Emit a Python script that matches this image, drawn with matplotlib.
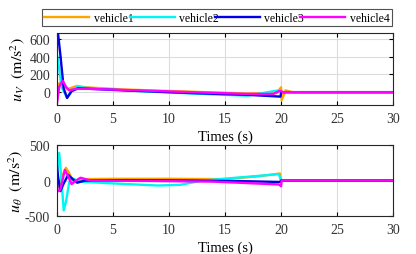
import numpy as np
import matplotlib.pyplot as plt

plt.rcParams['font.family'] = ['Liberation Serif', 'DejaVu Serif']
plt.rcParams['mathtext.fontset'] = 'stix'
plt.rcParams['axes.unicode_minus'] = False

names = ['vehicle1', 'vehicle2', 'vehicle3', 'vehicle4']
colors = ['#FFA500', '#00F5F5', '#0000E6', '#FF00FF']

# u_V traces (time, value)
tv1 = [0, 0.2, 0.5, 0.9, 1.3, 1.8, 2.5, 6, 12, 17, 19.6, 20, 20.05, 20.4, 21, 30]
uv1 = [-100, 100, 120, 30, 50, 70, 55, 30, 5, -15, -10, 55, -90, 20, 0, 0]
tv2 = [0, 0.15, 0.4, 0.9, 1.3, 1.8, 2.5, 6, 12, 17, 19.5, 19.9, 20, 21, 30]
uv2 = [420, 300, 60, -60, 20, 60, 50, 20, -15, -40, 15, 20, 0, 0, 0]
tv3 = [0, 0.1, 0.3, 0.6, 0.9, 1.3, 1.9, 2.5, 6, 12, 17, 19.95, 20, 30]
uv3 = [640, 650, 420, 40, -65, 10, 45, 40, 20, -10, -30, -50, 0, 0]
tv4 = [0, 0.2, 0.5, 0.8, 1.1, 1.6, 2.2, 6, 12, 17, 19.3, 19.9, 20.2, 30]
uv4 = [-120, 60, 130, 60, 20, 35, 40, 25, 0, -20, -20, 15, 0, 0]

# u_theta traces (time, value)
tt1 = [0, 0.2, 0.5, 0.8, 1.1, 1.5, 2.0, 2.5, 5, 10, 15, 18, 19.9, 20, 30]
ut1 = [-100, -80, 80, 180, 100, -20, 5, 20, 25, 25, 20, 60, 100, 0, 0]
tt2 = [0, 0.2, 0.4, 0.6, 0.8, 1.1, 1.4, 2.0, 5, 9, 11, 13, 16, 19.8, 20, 30]
ut2 = [100, 390, 0, -420, -300, -20, 30, -15, -40, -70, -60, 0, 40, 90, 0, 0]
tt3 = [0, 0.1, 0.3, 0.6, 1.0, 1.4, 1.8, 2.5, 6, 12, 17, 19.9, 20, 30]
ut3 = [200, 50, -150, -40, 80, 20, -30, 0, 5, 0, -10, -20, 0, 0]
tt4 = [0, 0.1, 0.3, 0.7, 1.0, 1.3, 1.7, 2.1, 3, 8, 14, 19.8, 20, 20.05, 30]
ut4 = [-100, -150, -130, 150, 60, -50, 0, 40, 0, -5, -15, -55, -80, 0, 0]

top = [(tv1, uv1), (tv2, uv2), (tv3, uv3), (tv4, uv4)]
bot = [(tt1, ut1), (tt2, ut2), (tt3, ut3), (tt4, ut4)]

fig = plt.figure(figsize=(4.16, 2.55), dpi=100)
ax1 = fig.add_axes([0.137, 0.584, 0.808, 0.283])
ax2 = fig.add_axes([0.137, 0.149, 0.808, 0.278])

for ax, data in ((ax1, top), (ax2, bot)):
    for (t, u), c, n in zip(data, colors, names):
        ax.plot(t, u, color=c, lw=1.7, label=n)
    ax.set_xlim(0, 30)
    ax.set_xticks(range(0, 31, 5))
    ax.grid(True, color='#dcdcdc', lw=0.8)
    ax.set_axisbelow(True)
    ax.tick_params(direction='in', top=True, right=True, labelsize=10, length=3,
                   pad=5, labelcolor='#333333')
    for s in ax.spines.values():
        s.set_linewidth(0.8)
        s.set_color('#262626')
    ax.set_xlabel('Times (s)', fontsize=10.5, labelpad=3)

ax1.set_ylim(-145, 665)
ax1.set_yticks([0, 200, 400, 600])
ax1.set_ylabel(r'$u_V\ \ (\mathrm{m/s}^2)$', fontsize=11.5, labelpad=2)

ax2.set_ylim(-500, 500)
ax2.set_yticks([-500, 0, 500])
ax2.set_ylabel(r'$u_\theta\ \ (\mathrm{m/s}^2)$', fontsize=11.5, labelpad=0)

h, l = ax1.get_legend_handles_labels()
leg = fig.legend(h, l, ncol=4, loc='lower left', bbox_to_anchor=(0.101, 0.894, 0.841, 0.071),
                 mode='expand', fontsize=8.5, frameon=True, fancybox=False,
                 borderaxespad=0, handlelength=3.8, handletextpad=0.4, borderpad=0.2)
leg.get_frame().set_edgecolor('#262626')
leg.get_frame().set_linewidth(0.8)

fig.savefig('out.png', dpi=100)
